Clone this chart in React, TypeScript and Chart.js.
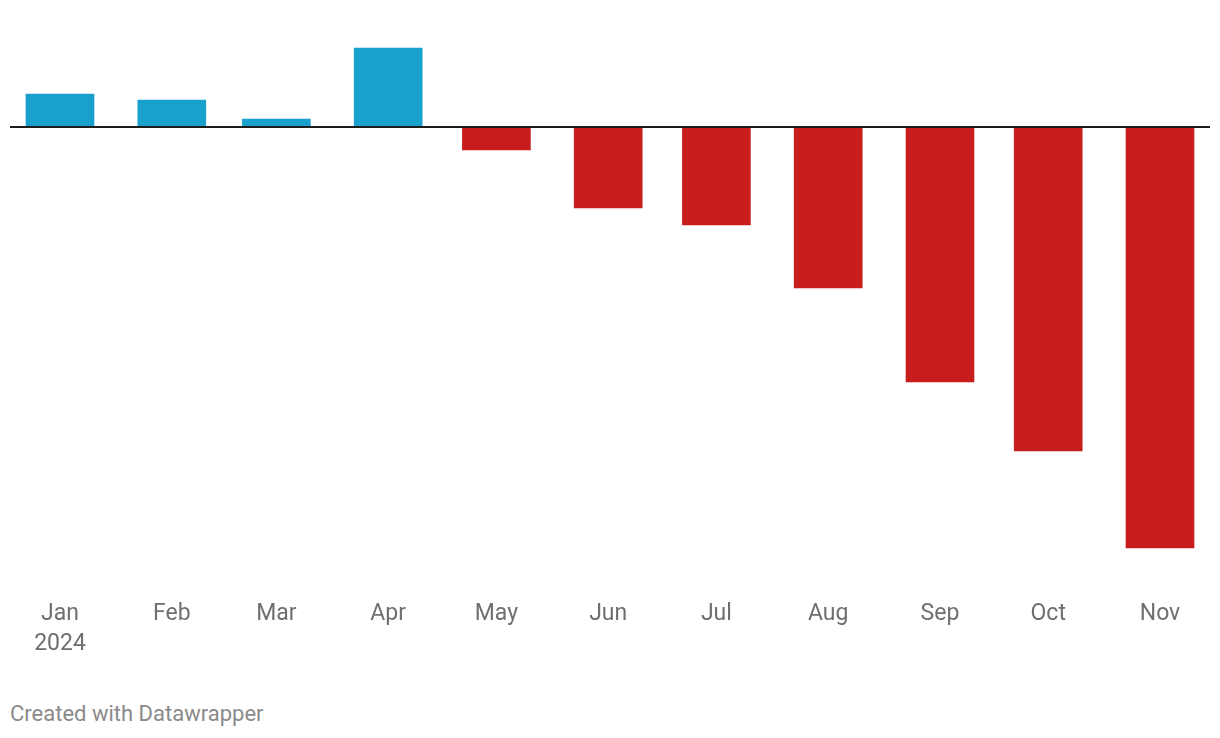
import React, { useEffect, useRef } from "react";
import { Chart, registerables } from "chart.js";

Chart.register(...registerables);

// Days since 1 Jan 2024 for the first day of each month
const monthDays = [0, 31, 60, 91, 121, 152, 182, 213, 244, 274, 305];
const monthLabels = ["Jan", "Feb", "Mar", "Apr", "May", "Jun", "Jul", "Aug", "Sep", "Oct", "Nov"];
const yearLabels = ["2024", "", "", "", "", "", "", "", "", "", ""];
const values = [33, 27, 8, 79, -23, -81, -98, -161, -255, -324, -421];

const BLUE = "#18a1cd";
const RED = "#c71e1d";

export default function App() {
  const ref = useRef<HTMLCanvasElement | null>(null);

  useEffect(() => {
    document.body.style.margin = "0";
    const canvas = ref.current;
    if (!canvas) return;
    const chart = new Chart(canvas, {
      type: "bar",
      data: {
        datasets: [
          {
            data: monthDays.map((d, i) => ({ x: d, y: values[i] })),
            backgroundColor: values.map((v) => (v >= 0 ? BLUE : RED)),
            barThickness: 68,
            borderWidth: 0,
          },
        ],
      },
      options: {
        animation: false,
        responsive: false,
        events: [],
        layout: { padding: { left: 10, right: 10, top: 10, bottom: 0 } },
        plugins: { legend: { display: false }, tooltip: { enabled: false } },
        scales: {
          x: {
            type: "linear",
            offset: false,
            min: -13.86,
            max: 318.86,
            grid: { display: false },
            border: { display: false },
            afterBuildTicks: (scale: any) => {
              scale.ticks = monthDays.map((d) => ({ value: d }));
            },
            afterFit: (scale: any) => {
              scale.height = 100;
            },
            ticks: {
              autoSkip: false,
              maxRotation: 0,
              minRotation: 0,
              padding: 11,
              color: "#6f6f6f",
              font: { family: "Roboto", size: 23, lineHeight: 30 / 23 },
              callback: (_v: any, i: number) =>
                yearLabels[i] ? [monthLabels[i], yearLabels[i]] : monthLabels[i],
            },
          },
          y: {
            min: -453,
            max: 117,
            afterBuildTicks: (scale: any) => {
              scale.ticks = [{ value: 0 }];
            },
            afterFit: (scale: any) => {
              scale.width = 0;
            },
            ticks: { display: false },
            border: { display: false },
            grid: { color: "#1d1d1d", lineWidth: 2, drawTicks: false, z: 1 },
          },
        },
      },
    });
    return () => chart.destroy();
  }, []);

  return (
    <div style={{ position: "relative", width: 1220, height: 738, background: "#fff" }}>
      <canvas ref={ref} width={1220} height={680} style={{ display: "block", width: 1220, height: 680 }} />
      <div
        style={{
          position: "absolute",
          left: 10,
          top: 699,
          fontFamily: "Roboto",
          fontSize: 22,
          lineHeight: "30px",
          color: "#8a8a8a",
        }}
      >
        Created with Datawrapper
      </div>
    </div>
  );
}
